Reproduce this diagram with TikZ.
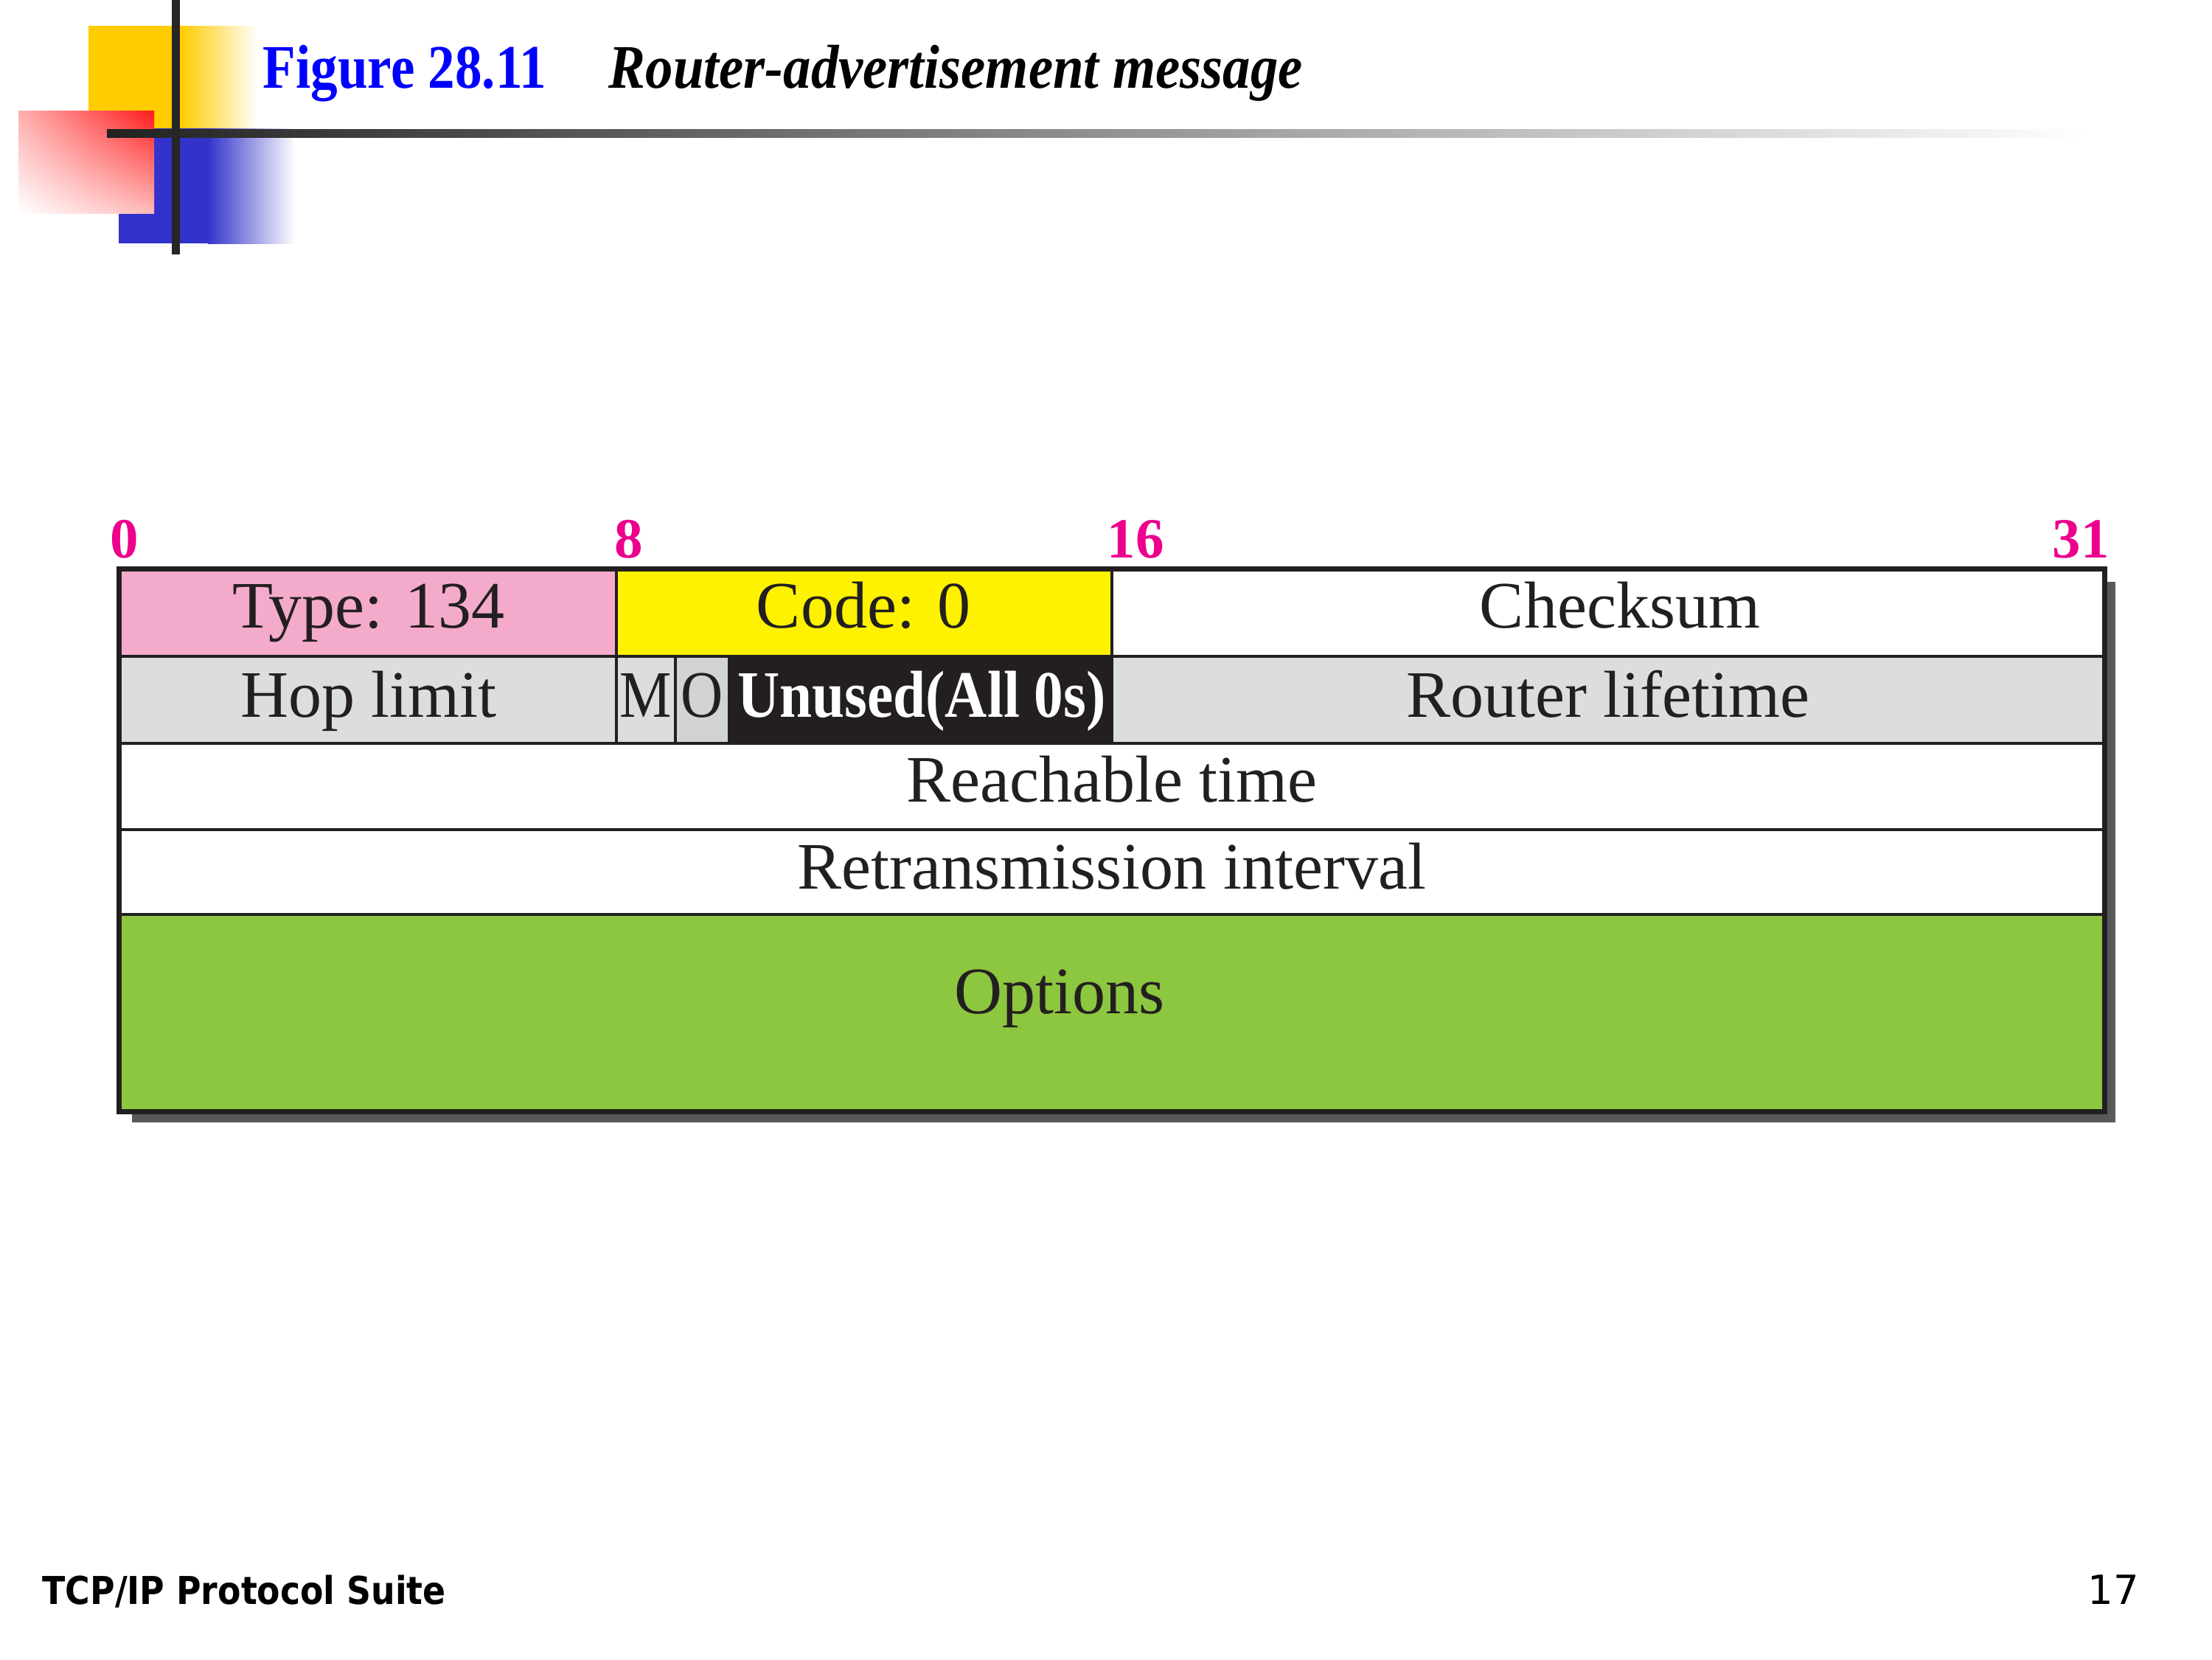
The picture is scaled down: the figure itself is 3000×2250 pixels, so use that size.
\documentclass[tikz,border=0pt]{standalone}
\usepackage{fontspec}
\usepackage{graphicx}
\setmainfont{Liberation Serif}
\newfontfamily\sansfoot{DejaVu Sans}
\usetikzlibrary{fit,shadings}

\definecolor{ink}{HTML}{231F20}
\definecolor{typepink}{HTML}{F4ABCB}
\definecolor{codeyellow}{HTML}{FFF200}
\definecolor{fieldgray}{HTML}{DCDDDE}
\definecolor{flaggray}{HTML}{D1D3D4}
\definecolor{optgreen}{HTML}{8DC63F}
\definecolor{shadowgray}{HTML}{58595B}
\definecolor{bitpink}{HTML}{EC008C}
\definecolor{logoyellow}{HTML}{FFCC00}
\definecolor{logoblue}{HTML}{3333CC}
\definecolor{logored}{HTML}{FF1A1A}
\definecolor{bardark}{HTML}{222222}
\definecolor{barpost}{HTML}{262626}

\begin{document}
\begin{tikzpicture}[x=0.01cm,y=-0.01cm,
  cellbox/.style={draw=ink, line width=1.1pt, inner sep=0pt},
  fieldtext/.style={anchor=base, inner sep=0pt, text=ink,
    font=\fontsize{25.6}{30}\selectfont},
  bitlabel/.style={anchor=base, inner sep=0pt, text=bitpink,
    font=\bfseries\fontsize{21.9}{26}\selectfont},
]
\useasboundingbox (0,0) rectangle (3000,2250);

% ---- corner logo ----
\fill[logoyellow] (120,35) rectangle (245,175);
\shade[left color=logoyellow, right color=white] (245,35) rectangle (350,175);
\fill[logoblue] (161,174) rectangle (282,330);
\shade[left color=logoblue, right color=white] (282,174) rectangle (400,330);
\shade[upper right=logored, upper left=logored!35!white,
       lower right=logored!30!white, lower left=white] (25,150) rectangle (209,289);
\shade[left color=bardark, middle color=black!32, right color=white]
  (145,175) rectangle (2830,186);
\fill[barpost] (233,0) rectangle (244,345);

% ---- heading ----
\node[anchor=base west, inner sep=0pt, text=blue,
      font=\bfseries\fontsize{23.9}{28}\selectfont] (fignum) at (356,119)
  {\scalebox{0.87}[1]{Figure 28.11}};
\node[anchor=base west, inner sep=0pt, text=black,
      font=\bfseries\itshape\fontsize{23.9}{28}\selectfont] (figtitle) at (825,119)
  {\scalebox{0.89}[1]{Router-advertisement message}};

% ---- bit positions ----
\node[bitlabel] (bit0)  at (169,756)  {0};
\node[bitlabel] (bit8)  at (853,756)  {8};
\node[bitlabel] (bit16) at (1540,756) {16};
\node[bitlabel] (bit31) at (2822,756) {31};

% ---- drop shadow ----
\fill[shadowgray] (179,789) rectangle (2869,1522);

% ---- message fields ----
\node[cellbox, fill=typepink,  fit={(163,773) (836,890)}]   (type) {};
\node[cellbox, fill=codeyellow, fit={(836,773) (1508,890)}] (code) {};
\node[cellbox, fill=white,     fit={(1508,773) (2853,890)}] (csum) {};
\node[cellbox, fill=fieldgray, fit={(163,890) (836,1008)}]  (hop) {};
\node[cellbox, fill=fieldgray, fit={(836,890) (916,1008)}]  (mflag) {};
\node[cellbox, fill=flaggray,  fit={(916,890) (989,1008)}]  (oflag) {};
\node[cellbox, fill=ink,       fit={(989,890) (1508,1008)}] (unused) {};
\node[cellbox, fill=fieldgray, fit={(1508,890) (2853,1008)}] (life) {};
\node[cellbox, fill=white,     fit={(163,1008) (2853,1125)}] (reach) {};
\node[cellbox, fill=white,     fit={(163,1125) (2853,1240)}] (retrans) {};
\node[cellbox, fill=optgreen,  fit={(163,1240) (2853,1506)}] (opts) {};
\draw[ink, line width=1.5pt] (type.north west) rectangle (opts.south east);

% ---- field names ----
\node[fieldtext] (typetxt)  at (500,851)  {Type: 134};
\node[fieldtext] (codetxt)  at (1171,851) {Code: 0};
\node[fieldtext] (csumtxt)  at (2197,851) {Checksum};
\node[fieldtext] (hoptxt)   at (500,972)  {Hop limit};
\node[fieldtext] (mtxt)     at (876,972)  {\scalebox{0.88}[1]{M}};
\node[fieldtext] (otxt)     at (952,972)  {\scalebox{0.88}[1]{O}};
\node[fieldtext, text=white, font=\bfseries\fontsize{25.6}{30}\selectfont]
  (unusedtxt) at (1250,972) {\scalebox{0.88}[1]{Unused(All 0s)}};
\node[fieldtext] (lifetxt)  at (2181,972)  {Router lifetime};
\node[fieldtext] (reachtxt) at (1508,1087) {Reachable time};
\node[fieldtext] (retrtxt)  at (1508,1205) {Retransmission interval};
\node[fieldtext] (optstxt)  at (1437,1374) {Options};

% ---- footer ----
\node[anchor=base west, inner sep=0pt,
      font=\sansfoot\bfseries\fontsize{14.8}{18}\selectfont] (suite) at (57,2175)
  {\scalebox{0.88}[1]{TCP/IP Protocol Suite}};
\node[anchor=base east, inner sep=0pt,
      font=\sansfoot\fontsize{15.5}{18}\selectfont] (pageno) at (2902,2175)
  {17};
\end{tikzpicture}
\end{document}
